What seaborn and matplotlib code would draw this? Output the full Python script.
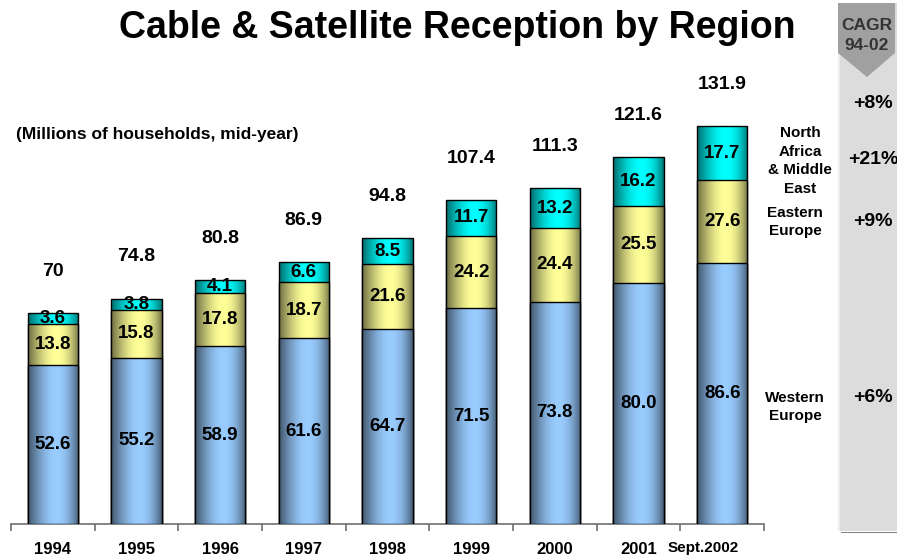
import numpy as np
import pandas as pd
import matplotlib
matplotlib.use('Agg')
import matplotlib.pyplot as plt
from matplotlib.patches import Polygon, Rectangle
import seaborn as sns

years = ['1994', '1995', '1996', '1997', '1998', '1999', '2000', '2001', 'Sept.2002']
western = [52.6, 55.2, 58.9, 61.6, 64.7, 71.5, 73.8, 80.0, 86.6]
eastern = [13.8, 15.8, 17.8, 18.7, 21.6, 24.2, 24.4, 25.5, 27.6]
nafme = [3.6, 3.8, 4.1, 6.6, 8.5, 11.7, 13.2, 16.2, 17.7]
totals = ['70', '74.8', '80.8', '86.9', '94.8', '107.4', '111.3', '121.6', '131.9']
cagr = ['+8%', '+21%', '+9%', '+6%']

sns.set_style('white')
plt.rcParams['font.family'] = ['Liberation Sans', 'DejaVu Sans']
plt.rcParams['text.color'] = 'black'
plt.rcParams['xtick.color'] = 'black'

W, H = 897, 560


def px(x, y):
    return x / W, 1 - y / H


fig = plt.figure(figsize=(W / 100, H / 100), dpi=100)
x0, y0 = px(11, 524)
x1, y1 = px(764, 30)
ax = fig.add_axes([x0, y0, x1 - x0, y1 - y0])

df = pd.DataFrame({'year': years, 'west': western, 'east': eastern, 'na': nafme})
df['c1'] = df['west']
df['c2'] = df['west'] + df['east']
df['c3'] = df['c2'] + df['na']

# cumulative bars drawn back to front, each gets a cylinder-like gradient
layers = [('c3', '#00ffff'), ('c2', '#ffff99'), ('c1', '#99ccff')]
t = np.linspace(0, 1, 256)
shade = 0.42 + 0.58 * np.sin(np.pi * t ** 1.2) ** 0.8

for i, (col, color) in enumerate(layers):
    n_before = len(ax.patches)
    sns.barplot(data=df, x='year', y=col, color=color, width=0.6,
                saturation=1, ax=ax)
    rgb = np.array(matplotlib.colors.to_rgb(color))
    grad = (shade[:, None] * rgb[None, :])[None, :, :]
    z = 2 + i
    for p in ax.patches[n_before:]:
        bx, by = p.get_x(), p.get_y()
        bw, bh = p.get_width(), p.get_height()
        im = ax.imshow(grad, extent=[bx, bx + bw, by, by + bh], aspect='auto',
                       zorder=z, interpolation='bilinear')
        im.set_clip_path(p)
        p.set_facecolor('none')
        p.set_edgecolor('black')
        p.set_linewidth(1.0)
        p.set_zorder(z + 0.5)

ax.set_xlim(-0.5, 8.5)
ax.set_ylim(0, (524 - 30) / 3.014)
ax.set_xlabel('')
ax.set_ylabel('')
ax.set_yticks([])
for s in ['top', 'right', 'left']:
    ax.spines[s].set_visible(False)
ax.spines['bottom'].set_color('#707070')
ax.spines['bottom'].set_linewidth(1.2)

# last category label sits a little left of its bar in the original
ax.set_xticks(range(len(years)))
ax.set_xticklabels(years[:-1] + [''], fontweight='bold', fontsize=12)
ax.annotate(years[-1], (len(years) - 1, 0), xycoords=('data', 'axes fraction'),
            xytext=(-13.5, -17.5), textcoords='offset points', ha='center',
            va='center', fontsize=11, fontweight='bold')
ax.set_xticks(np.arange(-0.5, len(years), 1), minor=True)
ax.tick_params(axis='x', which='major', bottom=True, length=0, pad=13)
ax.tick_params(axis='x', which='minor', bottom=True, length=5, width=1.2,
               color='#707070', direction='out')

# segment labels
for i in range(len(years)):
    segs = [(0, western[i]), (western[i], eastern[i]),
            (western[i] + eastern[i], nafme[i])]
    for base, val in segs:
        ax.text(i, base + val / 2, f'{val:.1f}', ha='center', va='center',
                fontsize=13.5, fontweight='bold', zorder=10)
    ax.annotate(totals[i], (i, df['c3'][i]), xytext=(0, 30),
                textcoords='offset points', ha='center', va='center',
                fontsize=14, fontweight='bold')

fig.text(*px(457, 28), 'Cable & Satellite Reception by Region', ha='center',
         va='center', fontsize=27, fontweight='bold')
fig.text(*px(16, 134), '(Millions of households, mid-year)', ha='left',
         va='center', fontsize=12.5, fontweight='bold')

fig.text(*px(800, 161), 'North\nAfrica\n& Middle\nEast', ha='center',
         va='center', fontsize=11, fontweight='bold', linespacing=1.45)
fig.text(*px(795, 222), 'Eastern\nEurope', ha='center', va='center',
         fontsize=11, fontweight='bold', linespacing=1.45)
fig.text(*px(795, 407), 'Western\nEurope', ha='center', va='center',
         fontsize=11, fontweight='bold', linespacing=1.45)

# CAGR side panel
fig.patches.append(Rectangle(px(841, 533), 56 / W, 1 / H, transform=fig.transFigure,
                             facecolor='#808080', edgecolor='none'))
fig.patches.append(Rectangle(px(838, 531), 59 / W, 528 / H, transform=fig.transFigure,
                             facecolor='#dcdcdc', edgecolor='none'))
fig.patches.append(Rectangle(px(838, 531), 2 / W, 528 / H, transform=fig.transFigure,
                             facecolor='#ececec', edgecolor='none'))
arrow = [px(838, 3), px(895, 3), px(895, 53), px(867, 77), px(838, 53)]
fig.patches.append(Polygon(arrow, closed=True, transform=fig.transFigure,
                           facecolor='#a0a0a0', edgecolor='none'))
fig.text(*px(867, 25), 'CAGR', ha='center', va='center', fontsize=12.5,
         fontweight='bold', color='#333333')
fig.text(*px(867, 46), '94-02', ha='center', va='center', fontsize=12.5,
         fontweight='bold', color='#333333')
for label, y in zip(cagr, [103, 160, 222, 398]):
    fig.text(*px(873, y), label, ha='center', va='center', fontsize=14,
             fontweight='bold')

fig.savefig('out.png', dpi=100)
